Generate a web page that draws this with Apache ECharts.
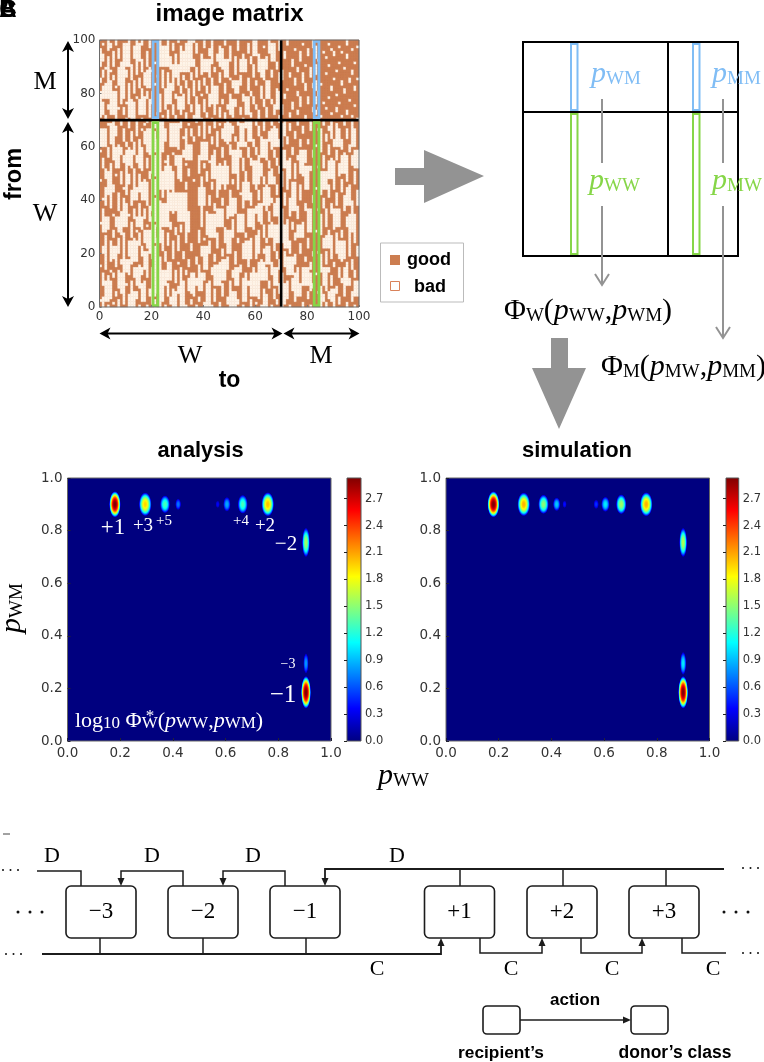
<!DOCTYPE html>
<html><head><meta charset="utf-8">
<style>html,body{margin:0;padding:0;background:#fff}#c{width:764px;height:1062px}</style>
<script src="https://cdn.jsdelivr.net/npm/echarts@6/dist/echarts.min.js"></script>
</head><body><div id="c"></div>
<script>
// ---- image matrix: per column, the rows judged "bad" (read by eye; row 0 at bottom)
const badRunsByColumn = [
"2 15 31 47 58 71-80 84-85 90-96",
"0-3 8-12 20-22 34-36 40 52-55 63 72-76 86-88 92-94 98",
"5-7 14-26 38-44 48-51 60-66 70-71 78-83 89",
"0 10-11 29-33 45 56-59 68 74-75 85-93 96-99",
"3-9 13 17-24 37-41 47-53 62-65 72-83 88 97-98",
"1 11-12 26-28 34 43-45 55-61 69 85-86 90-95",
"4-5 15-18 30-33 49 64-67 70-79 82 98-99",
"0-2 7-13 20-25 36-42 52-54 60 74 83-89 93-96",
"16-17 27-35 46-50 57-59 68-69 76-81 91",
"1-6 10-27 39-40 44 54-56 62-66 72-74 78-84 90-98",
"8 30-37 42-52 60-61 70 76 86-88",
"0-4 12-15 19-24 34 46-49 55-59 67-69 71-83 92-99",
"6-9 16 26-31 38-43 52 62-65 77 85-90",
"1 11-14 21-25 33-36 45-51 57-61 70-75 80-84 93-97",
"3-5 17-19 28 40 54-56 64-69 78 87-91 99",
"0 7-10 15 23-27 31-38 43-49 60-62 72-77 82-85 94-97",
"12-14 19-22 29 41 51-58 66 70 79-81 88-92 98-99",
"2-9 24-28 33-36 45-47 61-65 68 73-76 83-87",
"0 11-18 30 38-43 52-55 69 78-80 90-95",
"4-6 20-26 32-37 48-50 57-64 71-77 84-89 97-99",
"1-14 18-33 36-47 50-69 76-80 88",
"0-2 4-22 24-30 32-40 42-47 49-56 58-65 67-69 83 91",
"5-25 30-62 66-69 72 86",
"0-10 14-18 24-39 44-69 73-79 90-99",
"2-7 12-13 21-28 41-50 58-69 71 82-88 94",
"0 9-11 17-20 31-37 54 62-66 74-81 90-92 97",
"4-8 23-27 33 39-47 52-56 70-73 84-87 95-99",
"1-3 12-16 29-31 60-68 76-79 89-93",
"6 18-24 35-38 43-50 57 72-75 81-85 96-98",
"0-2 9-13 27-29 53-56 63-66 70-71 78-79 87-94",
"5-7 16 21-26 32-42 59-62 74-77 83-86 99",
"1 10-14 28-30 47-52 67-69 72-73 80-82 88-97",
"3-8 18-20 36-40 56-58 63 75-79 85-86",
"0 12-13 24-27 44-46 53 61-66 70-72 82-84 91-98",
"6-10 15-17 49-51 68 76-81 88-89",
"1-2 21-23 55-60 64-66 73-75 85-87 93-96",
"4-5 12 47 62-63 70-71 79-84 90-92 99",
"0 8-10 16-18 69 76-78 86-89 95-98",
"2-3 13-15 24-28 50-56 64-67 72-75 81-84",
"6-7 19-22 30-40 45-48 58-61 70 79 87-94",
"0-1 10-12 25 42-44 52-53 63-69 73-77 83-85 97-99",
"3-4 15-18 27-35 47-50 56-60 71-72 80-82 89-92",
"7-9 20-24 38-41 54 65-67 75-79 86-88 94-96",
"0 12-14 28-33 44-46 61-63 70 83-85 91-99",
"2-6 17-19 36-38 50-58 67-69 72-76 88-89",
"9-10 22-27 41-43 60-65 78-82 92-94",
"0-1 13-16 31-35 47-53 68 71-74 84-87 97",
"4-8 19-21 38-40 56-59 63-66 76-77 89-95",
"11 24-29 44-46 52-54 70-72 80-83 98-99",
"1-3 14-18 33-37 48-51 61-69 74-75 86-90",
"6-9 21-23 41-43 57-60 78-79 85 92-97",
"0 11-13 26-32 46-47 54-55 65-67 71-73 82-84",
"4-5 16-20 35-40 50-53 62-63 75-77 87-93",
"1-2 8-10 24-25 44-49 59-61 68-69 80-81 96-99",
"13-15 28-34 42 56-58 65 72-74 83-86",
"0 6-7 18-23 37-41 51-55 62-64 70 77-79 90-94",
"3-4 10-12 26-27 46-50 60-61 67-69 75 88-89",
"8-9 15-17 30-36 43-45 56-59 73-74 81-85 95-98",
"0-2 20-25 38-42 53-55 63-66 71-72 79-80 91-93",
"5-7 12-14 29-33 48-52 60-62 76-78 86-90",
"1 10-11 18-19 35-37 44-47 57-59 68-69 74-75 83-84 96-99",
"3-9 22-28 40-43 54-56 64-67 70-73 88-94",
"0 13-17 31-34 49-53 61-63 78-82",
"5-6 20-21 26-30 38-39 46-48 58-60 66-69 75-77 85-87 97",
"1-3 10-14 24-25 36-37 44-45 55-57 71-74 89-93",
"7-9 17-19 32-35 41-43 52-54 62-65 80-83 95-99",
"0 12-16 28-31 39-40 49-51 59-61 68-69 76-77 86-88",
"3-6 21-27 34-38 46-48 56-58 66-67 72-75 92-94",
"1-2 9-11 18-20 42-45 53-55 63-65 78-81 89-91",
"5-8 14-17 29-33 50-52 60-62 69 70-71 84-87 96-99",
"0-12 24-36 45-50 60-68 72-75 85-88",
"1-8 15-20 38-42 52-58 64-69 78-79 93-95",
"3-9 26-32 44-47 61-63 81 98-99",
"0 12-14 20-24 34-40 50-55 66-68 71-72 86-87",
"6-10 29-31 42-44 57-59 74-76 90-92",
"2-3 16-19 25-27 48-53 63-65 83-85 96",
"11-14 33-37 55-56 68-69 72-73 79-80 88-89",
"4-8 20-23 40-45 60-62 75-78 92-95",
"0-1 26-31 49-52 65-67 84-87 98",
"9-13 17-18 36-38 54-58 70-71 81-83 90",
"3-5 22-25 44-47 61-62 76-78 94-96",
"0 14-16 29-33 51-52 66-69 86-89",
"7-8 19-20 39-41 56-58 73-74 82-83 97-99",
"12 28 44 60 72-73 76-78 81-84 87-90 93-97",
"5 20 36 52 66 74 79-80 92",
"0-7 13-19 27-34 42-49 58-66 71 83",
"2-4 10-11 22-25 37-40 52-56 68-69 76 95",
"0-1 6-9 16-20 30-36 46-50 62-64 74 87 93",
"3-5 13-14 25-28 41-45 57-60 66-67 78 90 98",
"8-11 18-23 35-38 52-55 63-69 72 81-82 96",
"0-2 15-16 29-33 44-49 60-62 85 94-95",
"5-7 20-27 38-42 55-58 67-68 73-74 79 88",
"1-3 11-14 31-35 49-53 64-66 76 91 97",
"9-10 17-19 26-28 43-47 59-62 71 83-84 95",
"4-7 22-24 36-41 54-57 68-69 80-81 89",
"0-1 12-16 30-33 47-52 63-66 72-73 93-94 98-99",
"8-10 19-27 42-45 58-60 77 84-85",
"2-5 14-17 34-39 53-56 67-69 71 87-88 96",
"0 11-13 24-30 46-50 62-65 75 81-82 91",
"6-9 19-22 38-43 55-57 70 85 97"
];
// wider bad streaks seen in the picture: [first column, last column, first row, last row]
const badStreaks = [
[0,1,60,66],[1,2,28,33],[2,3,2,9],[3,4,42,50],[4,5,61,68],[5,6,18,22],[6,7,52,59],[7,8,28,33],[8,9,5,12],[9,10,30,38],[10,11,13,17],[10,12,53,58],[12,13,0,5],[12,14,17,24],[13,14,40,44],[14,15,8,14],[14,16,30,33],[15,16,52,59],[16,17,2,8],[16,18,40,46],[17,18,14,20],[18,19,58,66],[18,19,22,28],
[23,25,8,13],[24,26,30,38],[25,27,44,52],[26,27,10,16],[27,29,36,42],[28,29,0,5],[28,30,60,68],[30,31,48,56],[31,32,0,9],[31,33,32,42],[33,34,28,35],[33,35,55,60],[35,36,5,12],[38,39,6,12],[38,40,38,44],[39,41,55,61],[40,41,14,22],[41,42,0,8],[42,44,26,34],[43,44,48,56],[44,46,8,15],[45,47,30,36],[45,46,44,52],[47,48,10,17],[47,49,46,52],[48,50,62,68],[49,50,20,28],[50,52,0,5],[50,51,34,40],[51,53,50,58],[52,53,8,14],[53,55,28,34],[54,55,60,68],[55,56,2,10],[55,57,40,46],[56,58,18,24],[57,58,62,69],[58,60,4,12],[58,59,30,36],[59,61,46,54],[60,61,20,26],[61,63,10,16],[61,62,32,38],[62,64,56,62],[63,64,0,4],[63,65,38,44],[64,65,16,22],[65,67,26,30],[65,66,46,50],[66,68,60,66],[67,68,8,14],[68,69,24,30],[68,69,34,40],
[70,71,52,58],[71,72,22,30],[72,73,48,54],[72,74,12,18],[74,75,36,46],[75,76,4,12],[76,78,26,30],[77,78,50,58],[78,80,8,14],[79,80,44,52],[80,81,28,36],[81,81,6,12],[85,87,44,50],[86,87,8,14],[87,89,22,26],[88,90,48,54],[89,90,2,6],[90,92,30,36],[91,92,60,66],[92,94,18,24],[93,95,50,56],[94,95,8,14],[95,96,38,44],[96,98,28,34],[97,98,60,66],[98,99,4,9],[98,99,52,58],
[1,2,78,82],[3,4,78,84],[5,6,72,80],[8,9,82,90],[10,11,90,98],[12,13,70,76],[14,15,92,98],[16,17,72,78],[18,19,82,88],[24,26,90,97],[26,27,76,83],[28,30,86,90],[30,32,74,78],[32,33,88,95],[34,35,90,99],[37,38,70,75],[40,42,88,92],[43,45,76,82],[46,47,90,96],[48,49,86,92],[50,51,72,77],[52,53,80,84],[54,56,88,92],[56,57,72,78],[59,60,94,99],[62,63,86,92],[64,65,78,84],[66,67,92,98],[68,69,74,80]
];
const dividerAt = 70;
// highlighted columns [x0, x1, y0, y1, kind]
const columnFrames = [[20.1, 23, 70.4, 100, 0], [82.2, 85.1, 70.4, 100, 0], [20.1, 23, 0, 69.6, 1], [82.2, 85.1, 0, 69.6, 1]];

// ---- density peaks: x, y, half width, half height, peak value
const analysisPeaks = [
  [0.18, 0.90, 0.022, 0.050, 2.93], [0.295, 0.90, 0.024, 0.045, 1.95], [0.37, 0.90, 0.019, 0.034, 1.30],
  [0.42, 0.90, 0.011, 0.022, 0.70], [0.57, 0.90, 0.008, 0.014, 0.35], [0.605, 0.90, 0.014, 0.028, 0.85],
  [0.665, 0.90, 0.019, 0.036, 1.30], [0.76, 0.90, 0.024, 0.046, 2.00], [0.905, 0.755, 0.015, 0.056, 1.55],
  [0.905, 0.295, 0.010, 0.039, 0.80], [0.905, 0.185, 0.019, 0.062, 2.93]
];
const simulationPeaks = [
  [0.18, 0.90, 0.023, 0.050, 2.93], [0.295, 0.90, 0.024, 0.045, 2.05], [0.37, 0.90, 0.020, 0.037, 1.50],
  [0.42, 0.90, 0.014, 0.026, 0.95], [0.45, 0.90, 0.008, 0.014, 0.40], [0.57, 0.90, 0.010, 0.018, 0.50],
  [0.605, 0.90, 0.016, 0.029, 1.05], [0.665, 0.90, 0.020, 0.038, 1.55], [0.76, 0.90, 0.024, 0.046, 2.05],
  [0.90, 0.755, 0.015, 0.056, 1.60], [0.90, 0.295, 0.012, 0.044, 1.05], [0.90, 0.185, 0.019, 0.062, 2.93]
];
const colorbarMax = 2.93;
const colorbarStep = 0.3;
const plotTickStep = 0.2;

// ---- helpers
const GOOD = '#cc7d50', BAD = '#fef4e9', BLUE = '#80bdf5', GREEN = '#86d648', GREY = '#939393', INK = '#1c1c1c';
const SERIF = '"Liberation Serif"', SANS = '"Liberation Sans"', AXF = '"DejaVu Sans"';
function jet(t) {
  t = Math.max(0, Math.min(1, t));
  const f = (a) => Math.round(255 * Math.max(0, Math.min(1, 1.5 - Math.abs(4 * t - a))));
  return 'rgb(' + f(3) + ',' + f(2) + ',' + f(1) + ')';
}
function isBad(col, row) {
  return badRunsByColumn[col].split(' ').some(r => {
    const p = r.split('-').map(Number);
    return row >= p[0] && row <= (p.length > 1 ? p[1] : p[0]);
  }) || badStreaks.some(s => col >= s[0] && col <= s[1] && row >= s[2] && row <= s[3]);
}
const cells = [];
badRunsByColumn.forEach((_, c) => { for (let r = 0; r < 100; r++) cells.push([c, r, isBad(c, r) ? 0 : 1]); });

const renderCell = (p, api) => {
  const a = api.coord([api.value(0), api.value(1) + 1]), b = api.coord([api.value(0) + 1, api.value(1)]);
  const color = api.value(2) ? GOOD : BAD;
  return { type: 'rect', shape: { x: a[0], y: a[1], width: b[0] - a[0], height: b[1] - a[1] }, style: { fill: color, stroke: color, lineWidth: 0.4 } };
};
const renderFrame = (p, api) => {
  const a = api.coord([api.value(0), api.value(3)]), b = api.coord([api.value(1), api.value(2)]);
  return { type: 'rect', shape: { x: a[0] + 1.4, y: a[1] + 1.4, width: b[0] - a[0] - 2.8, height: b[1] - a[1] - 2.8 },
    style: { fill: 'none', stroke: api.value(4) ? GREEN : BLUE, lineWidth: 2.8 } };
};
const renderBorder = (p, api) => {
  const a = api.coord([api.value(0), api.value(3)]), b = api.coord([api.value(1), api.value(2)]);
  return { type: 'rect', shape: { x: a[0], y: a[1], width: b[0] - a[0], height: b[1] - a[1] }, style: { fill: 'none', stroke: '#6a6a6a', lineWidth: 1 } };
};
const renderPeak = (p, api) => {
  const c = api.coord([api.value(0), api.value(1)]), s = api.size([api.value(2), api.value(3)]), pk = api.value(4), stops = [];
  for (let i = 0; i <= 20; i++) { const t = i / 20; stops.push({ offset: t, color: jet(pk * (1 - Math.pow(t, 2.4)) / colorbarMax) }); }
  return { type: 'circle', x: c[0], y: c[1], scaleY: s[1] / s[0], shape: { cx: 0, cy: 0, r: s[0] },
    style: { fill: new echarts.graphic.RadialGradient(0.5, 0.5, 0.5, stops) } };
};
const renderBar = (p, api) => {
  const a = api.coord([0, api.value(0)]), b = api.coord([1, 0]), stops = [];
  for (let i = 0; i <= 32; i++) stops.push({ offset: i / 32, color: jet(1 - i / 32) });
  return { type: 'rect', shape: { x: a[0], y: a[1], width: b[0] - a[0], height: b[1] - a[1] },
    style: { fill: new echarts.graphic.LinearGradient(0, 0, 0, 1, stops), stroke: '#555', lineWidth: 1 } };
};

const grids = [
  { left: 99.5, top: 40, width: 259.5, height: 267, show: true, backgroundColor: GOOD, borderWidth: 0 },
  { left: 67.5, top: 478, width: 263.5, height: 263, show: true, backgroundColor: '#00007f', borderColor: '#666', borderWidth: 1 },
  { left: 446, top: 478, width: 263.5, height: 263, show: true, backgroundColor: '#00007f', borderColor: '#666', borderWidth: 1 },
  { left: 347, top: 478, width: 14, height: 263 },
  { left: 726, top: 478, width: 14, height: 263 }
];
const axLabel = (size, margin) => ({ fontFamily: AXF, fontSize: size, color: '#333', margin });
const matAxis = () => ({ type: 'value', min: 0, max: 100, interval: 20, gridIndex: 0, z: 5, splitLine: { show: false }, axisLine: { show: false },
  axisTick: { inside: true, length: 2, lineStyle: { color: '#777' } }, axisLabel: axLabel(12, 4) });
const plotAxis = (g) => ({ type: 'value', min: 0, max: 1, interval: plotTickStep, gridIndex: g, splitLine: { show: false }, axisLine: { show: false },
  axisTick: { inside: true, length: 3, lineStyle: { color: '#223' } }, axisLabel: { ...axLabel(13.5, 5), formatter: v => v.toFixed(1) } });
const barY = (g) => ({ type: 'value', min: 0, max: colorbarMax, interval: colorbarStep, gridIndex: g, position: 'right', z: 5, splitLine: { show: false }, axisLine: { show: false },
  axisTick: { inside: true, length: 3, lineStyle: { color: '#222' } }, axisLabel: { ...axLabel(11.5, 4), showMaxLabel: false, formatter: v => v.toFixed(1) } });
const barX = (g) => ({ type: 'value', min: 0, max: 1, gridIndex: g, show: false });

const series = [
  { type: 'custom', xAxisIndex: 0, yAxisIndex: 0, z: 1, progressive: 0, silent: true, renderItem: renderCell, data: cells },
  { type: 'line', xAxisIndex: 0, yAxisIndex: 0, z: 2, symbol: 'none', silent: true, lineStyle: { color: '#000', width: 2.6 }, data: [[dividerAt, 0], [dividerAt, 100]] },
  { type: 'line', xAxisIndex: 0, yAxisIndex: 0, z: 2, symbol: 'none', silent: true, lineStyle: { color: '#000', width: 2.6 }, data: [[0, dividerAt], [100, dividerAt]] },
  { type: 'custom', xAxisIndex: 0, yAxisIndex: 0, z: 3, silent: true, renderItem: renderFrame, data: columnFrames },
  { type: 'custom', xAxisIndex: 0, yAxisIndex: 0, z: 4, silent: true, renderItem: renderBorder, data: [[0, 100, 0, 100]] },
  { type: 'custom', xAxisIndex: 1, yAxisIndex: 1, clip: false, silent: true, renderItem: renderPeak, data: analysisPeaks },
  { type: 'custom', xAxisIndex: 2, yAxisIndex: 2, clip: false, silent: true, renderItem: renderPeak, data: simulationPeaks },
  { type: 'custom', xAxisIndex: 3, yAxisIndex: 3, silent: true, renderItem: renderBar, data: [[colorbarMax]] },
  { type: 'custom', xAxisIndex: 4, yAxisIndex: 4, silent: true, renderItem: renderBar, data: [[colorbarMax]] }
];

// ---- annotation drawing (schematic parts of the figure)
const g = [];
const line = (pts, color = INK, w = 1.5) => g.push({ type: 'polyline', silent: true, shape: { points: pts }, style: { stroke: color, lineWidth: w, fill: 'none', lineJoin: 'miter' } });
const poly = (pts, color = INK) => g.push({ type: 'polygon', silent: true, shape: { points: pts }, style: { fill: color } });
const rect = (x, y, w, h, style, r = 0) => g.push({ type: 'rect', silent: true, shape: { x, y, width: w, height: h, r }, style });
const text = (s, x, y, font, color = '#000', align = 'center', rot = 0) => g.push({ type: 'text', silent: true, x, y, rotation: rot,
  style: { text: s, font, fill: color, align, verticalAlign: 'middle' } });
const mathStyles = (m, sb) => ({
  i: { fontFamily: SERIF, fontStyle: 'italic', fontSize: m, verticalAlign: 'bottom' },
  r: { fontFamily: SERIF, fontSize: m, verticalAlign: 'bottom' },
  s: { fontFamily: SERIF, fontSize: sb, verticalAlign: 'bottom', padding: [0, 0, 0, 0] }
});
const math = (s, x, y, m, sb, color = '#000', rot = 0) => {
  const rich = mathStyles(m, sb);
  Object.keys(rich).forEach(k => rich[k].fill = color);
  g.push({ type: 'text', silent: true, x, y, rotation: rot, style: { text: s, rich, fill: color, align: 'left', verticalAlign: 'middle' } });
};
const headD = (x, y, w = 7, l = 8, c = INK) => poly([[x - w / 2, y - l], [x + w / 2, y - l], [x, y]], c);
const headU = (x, y, w = 7, l = 8, c = INK) => poly([[x - w / 2, y + l], [x + w / 2, y + l], [x, y]], c);
const headR = (x, y, w = 7, l = 8, c = INK) => poly([[x - l, y - w / 2], [x - l, y + w / 2], [x, y]], c);

// panel letters
['A', 'B', 'C'].forEach(l => text(l, 8, 10, 'bold 24px ' + SANS, '#000'));
line([[3, 834], [10, 834]], '#444', 1);

// titles
text('image matrix', 229.5, 14, 'bold 24px ' + SANS);
text('analysis', 200.5, 451, 'bold 21.8px ' + SANS);
text('simulation', 577, 451, 'bold 22px ' + SANS);

// matrix annotation arrows
const dblV = (x, y0, y1) => {
  line([[x, y0 + 6], [x, y1 - 6]], '#000', 2);
  poly([[x, y0], [x + 6, y0 + 11], [x, y0 + 8], [x - 6, y0 + 11]], '#000');
  poly([[x, y1], [x + 6, y1 - 11], [x, y1 - 8], [x - 6, y1 - 11]], '#000');
};
const dblH = (x0, x1, y) => {
  line([[x0 + 6, y], [x1 - 6, y]], '#000', 2);
  poly([[x0, y], [x0 + 11, y - 6], [x0 + 8, y], [x0 + 11, y + 6]], '#000');
  poly([[x1, y], [x1 - 11, y - 6], [x1 - 8, y], [x1 - 11, y + 6]], '#000');
};
dblV(68, 41, 119); dblV(68, 122, 307);
dblH(99.5, 282.5, 333.5); dblH(283.5, 359.5, 333.5);
text('M', 45, 82, '26px ' + SERIF);
text('W', 45, 214, '26px ' + SERIF);
text('W', 190, 356, '26px ' + SERIF);
text('M', 321, 356, '26px ' + SERIF);
text('from', 15, 174, 'bold 23.5px ' + SANS, '#000', 'center', Math.PI / 2);
text('to', 229.5, 381, 'bold 23px ' + SANS);

// legend
rect(380.5, 243, 83, 59, { fill: '#fff', stroke: '#bbb', lineWidth: 1 });
rect(390, 255, 10, 10, { fill: GOOD });
rect(390.5, 281.5, 9, 9, { fill: '#fff', stroke: '#d9825a', lineWidth: 1 });
text('good', 407, 260, 'bold 18px ' + SANS, '#000', 'left');
text('bad', 414, 287, 'bold 18px ' + SANS, '#000', 'left');

// big grey arrows
poly([[395, 168], [424, 168], [424, 150], [484, 176], [424, 203], [424, 185], [395, 185]], GREY);
poly([[551, 338], [568, 338], [568, 368], [586, 368], [559, 429], [532, 368], [551, 368]], GREY);

// schematic of the matrix
rect(523, 42, 215, 214, { fill: 'none', stroke: '#000', lineWidth: 2 });
line([[668, 42], [668, 256]], '#000', 2);
line([[523, 112], [738, 112]], '#000', 2);
rect(571, 44, 6.5, 66, { fill: 'none', stroke: BLUE, lineWidth: 2 });
rect(693, 44, 6.5, 66, { fill: 'none', stroke: BLUE, lineWidth: 2 });
rect(571, 114, 6.5, 140, { fill: 'none', stroke: GREEN, lineWidth: 2 });
rect(693, 114, 6.5, 140, { fill: 'none', stroke: GREEN, lineWidth: 2 });
line([[602, 99], [602, 163]], GREY, 2);
line([[723, 99], [723, 163]], GREY, 2);
line([[602, 206], [602, 285]], GREY, 2);
line([[723, 206], [723, 338]], GREY, 2);
line([[595, 274], [602, 285], [609, 274]], GREY, 2);
line([[716, 327], [723, 338], [730, 327]], GREY, 2);
math('{i|p}{s|WM}', 591, 74, 30, 19, BLUE);
math('{i|p}{s|MM}', 712, 74, 30, 19, BLUE);
math('{i|p}{s|WW}', 589, 181, 30, 19, GREEN);
math('{i|p}{s|MW}', 712, 181, 30, 19, GREEN);
math('{r|Φ}{s|W}{r|(}{i|p}{s|WW}{r|,}{i|p}{s|WM}{r|)}', 504, 311, 30, 19);
math('{r|Φ}{s|M}{r|(}{i|p}{s|MW}{r|,}{i|p}{s|MM}{r|)}', 601, 367, 30, 19);

// labels on the analysis plot
const white = '#fff';
text('+1', 113, 528, '23px ' + SERIF, white);
text('+3', 143, 526, '19px ' + SERIF, white);
text('+5', 164, 521, '15px ' + SERIF, white);
text('+4', 241, 521, '15px ' + SERIF, white);
text('+2', 265, 526, '19px ' + SERIF, white);
text('\u22122', 286, 544, '21px ' + SERIF, white);
text('\u22123', 288, 664, '14px ' + SERIF, white);
text('\u22121', 283, 695, '25px ' + SERIF, white);
math('{r|log}{s|10}{r| Φ}{s|W}{r|(}{i|p}{s|WW}{r|,}{i|p}{s|WM}{r|)}', 75, 721, 22, 17, white);
text('*', 150, 717, '17px ' + SERIF, white);
math('{i|p}{s|WM}', 12, 633, 30, 19, '#000', Math.PI / 2);
math('{i|p}{s|WW}', 378, 776, 30, 19);

// panel C flow diagram
const boxes = [[66, '\u22123'], [168, '\u22122'], [270, '\u22121'], [424.5, '+1'], [527, '+2'], [629, '+3']];
boxes.forEach(b => {
  rect(b[0], 886, 70, 52, { fill: '#fff', stroke: INK, lineWidth: 1.6 }, 5);
  text(b[1], b[0] + 35, 912, '23px ' + SERIF);
});
line([[37, 871], [81, 871], [81, 886]]);
line([[183, 886], [183, 871], [121, 871], [121, 880]]); headD(121, 886);
line([[285, 886], [285, 871], [223, 871], [223, 880]]); headD(223, 886);
line([[724, 869], [325, 869], [325, 880]], INK, 1.8); headD(325, 886);
[460, 563, 666].forEach(x => line([[x, 869], [x, 886]]));
line([[42, 954], [441, 954], [441, 944]], INK, 1.8); headU(441, 938);
[100, 203, 306].forEach(x => line([[x, 938], [x, 954]]));
line([[480, 938], [480, 953], [542, 953], [542, 944]]); headU(542, 938);
line([[581, 938], [581, 953], [642, 953], [642, 944]]); headU(642, 938);
line([[682, 938], [682, 953], [726, 953]]);
[[52, 856], [152, 856], [253, 856], [397, 856]].forEach(p => text('D', p[0], p[1], '22px ' + SERIF));
[[377, 969], [511, 969], [612, 969], [713, 969]].forEach(p => text('C', p[0], p[1], '22px ' + SERIF));
const dots = (x, y, gap, r) => [0, 1, 2].forEach(i => g.push({ type: 'circle', silent: true, shape: { cx: x + i * gap, cy: y, r }, style: { fill: '#111' } }));
dots(3, 870, 7.5, 1); dots(18, 912, 12, 1.5); dots(6, 954, 7.5, 1);
dots(743, 868, 7.5, 1); dots(724, 912, 12, 1.5); dots(743, 953, 7.5, 1);

// panel C key
rect(483, 1006, 37, 28, { fill: '#fff', stroke: INK, lineWidth: 1.6 }, 4);
rect(631, 1006, 37, 28, { fill: '#fff', stroke: INK, lineWidth: 1.6 }, 4);
line([[520, 1020], [625, 1020]]); headR(631, 1020);
text('action', 575, 1000, 'bold 17px ' + SANS);
text('recipient\u2019s', 501, 1053, 'bold 17.3px ' + SANS);
text('donor\u2019s class', 675, 1053, 'bold 17.5px ' + SANS);

const chart = echarts.init(document.getElementById('c'), null, { renderer: 'canvas' });
chart.setOption({
  animation: false, backgroundColor: '#fff',
  grid: grids,
  xAxis: [matAxis(), plotAxis(1), plotAxis(2), barX(3), barX(4)],
  yAxis: [matAxis(), plotAxis(1), plotAxis(2), barY(3), barY(4)],
  series, graphic: { elements: g }
});
</script></body></html>
